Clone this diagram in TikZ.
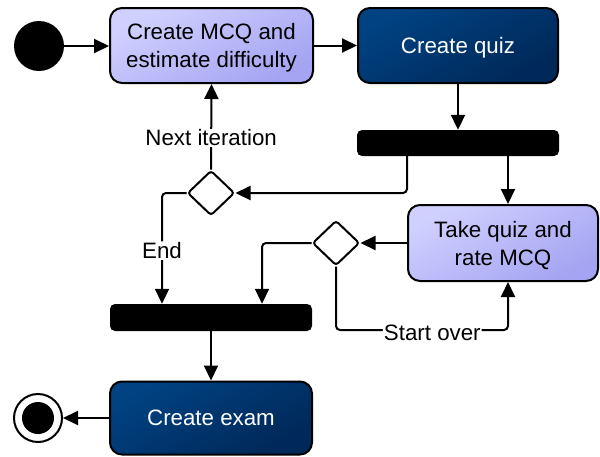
\documentclass[tikz,border=0pt]{standalone}
\usepackage{fontspec}
\setmainfont{Liberation Sans}
\usetikzlibrary{arrows.meta,shapes.geometric}
\definecolor{lightA}{HTML}{D0D0FF}
\definecolor{lightB}{HTML}{A4A4F2}
\definecolor{darkA}{HTML}{004282}
\definecolor{darkB}{HTML}{002858}
\begin{document}
\begin{tikzpicture}[x=1pt,y=-1pt,
  every node/.style={font=\fontsize{22.3}{28}\selectfont},
  lightbox/.style={draw=black,line width=2pt,rounded corners=12pt,
    top color=lightA,bottom color=lightB,shading angle=30,
    align=center,inner sep=0pt,text depth=0pt},
  darkbox/.style={draw=black,line width=2pt,rounded corners=12pt,
    top color=darkA,bottom color=darkB,shading angle=30,
    text=white,align=center,inner sep=0pt,text depth=0pt},
  forkbar/.style={fill=black,rounded corners=5pt,inner sep=0pt},
  decision/.style={diamond,draw=black,line width=2pt,fill=white,rounded corners=3pt,
    minimum width=47pt,minimum height=45pt,inner sep=0pt},
  conn/.style={line width=2pt,-{Triangle[length=15pt,width=14pt]}},
  lbl/.style={fill=white,inner sep=1pt}
]
\useasboundingbox (0,0) rectangle (600,456);

\node[circle,fill=black,minimum size=50pt,inner sep=0pt] (start) at (39,46) {};
\node[lightbox,minimum width=203pt,minimum height=75pt] (b1) at (211.5,45.5) {Create MCQ and\\estimate difficulty};
\node[darkbox,minimum width=200pt,minimum height=75pt] (b2) at (458,45.5) {Create quiz};
\node[forkbar,minimum width=202pt,minimum height=26pt] (f1) at (458,143) {};
\node[decision] (d1) at (211,193) {};
\node[lightbox,minimum width=190pt,minimum height=76pt] (b3) at (503,243) {Take quiz and\\rate MCQ};
\node[decision] (d2) at (336,243) {};
\node[forkbar,minimum width=202pt,minimum height=27pt] (f2) at (211,317.5) {};
\node[darkbox,minimum width=202pt,minimum height=73pt] (b4) at (211,418) {Create exam};
\node[circle,draw=black,line width=2pt,fill=white,minimum size=48pt,inner sep=0pt] (end) at (38,418) {};
\node[circle,fill=black,minimum size=32pt,inner sep=0pt] (endin) at (end) {};

\coordinate (so) at (508,330);

\draw[conn] (start.east) -- (start.east -| b1.west);
\draw[conn] (b1.east |- b2.west) -- (b2.west);
\draw[conn] (b2.south) -- (f1.north);
\draw[conn,rounded corners=4pt] ([xshift=-51pt]f1.south) |- (d1.east);
\draw[conn] ([xshift=50pt]f1.south) -- ([xshift=50pt]f1.south |- b3.north);
\draw[conn] (d1.north) -- node[lbl,pos=0.37] {Next iteration} (b1.south);
\draw[conn,rounded corners=4pt] (d1.west) -| node[lbl,pos=0.76] {End} ([xshift=-49pt]f2.north);
\draw[conn] (b3.west) -- (d2.east);
\draw[conn,rounded corners=4pt] (d2.west) -| ([xshift=51pt]f2.north);
\draw[conn,rounded corners=4pt] (d2.south) |- node[lbl,pos=0.78,yshift=-3pt] {Start over} (so) -- (so |- b3.south);
\draw[conn] (f2.south) -- (b4.north);
\draw[conn] (b4.west) -- (end.east);
\end{tikzpicture}
\end{document}
